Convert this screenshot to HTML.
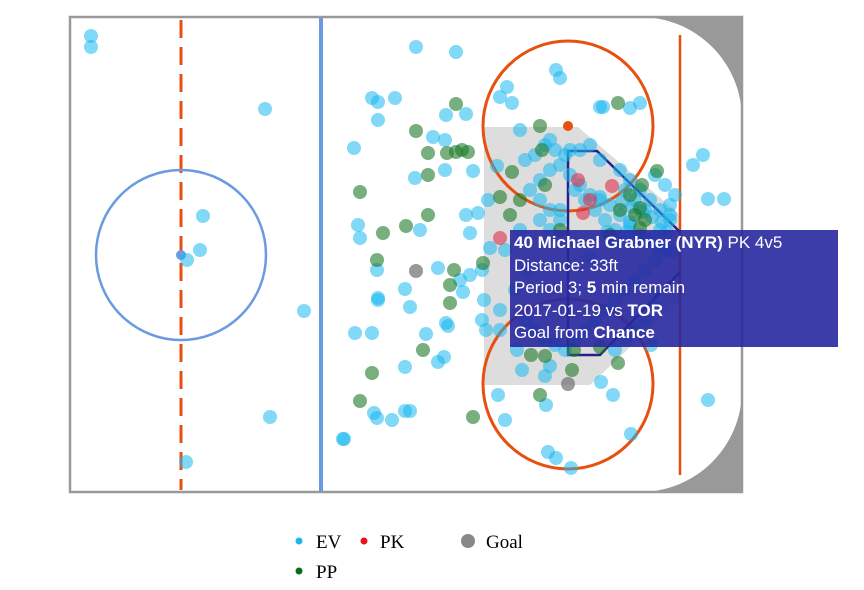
<!DOCTYPE html>
<html><head><meta charset="utf-8"><style>
body{margin:0;background:#fff;width:864px;height:590px;overflow:hidden;font-family:"Liberation Serif",serif}
svg{position:absolute;left:0;top:0}
.tip{position:absolute;left:510px;top:230px;width:328px;height:117px;background:rgba(40,40,160,0.9);color:#fff;font-family:"Liberation Sans",sans-serif;font-size:17px;line-height:22.5px;padding:2px 4px;box-sizing:border-box}
</style></head><body>
<svg id="chart" width="864" height="590">
<g id="rink">
<path d="M640,17 A102,102 0 0 1 742,119 L742,17 Z M640,492 A102,102 0 0 0 742,390 L742,492 Z" fill="#999"/>
<rect x="70" y="17" width="672" height="475" fill="none" stroke="#999" stroke-width="2.5"/>
<polygon points="484,127 578,127 680,215 680,300 590,385 484,385" fill="#ddd"/>
<line x1="181" y1="20" x2="181" y2="490" stroke="#e8500f" stroke-width="3" stroke-dasharray="18,9"/>
<line x1="321" y1="18" x2="321" y2="491" stroke="#6a9be0" stroke-width="4"/>
<line x1="680" y1="35" x2="680" y2="475" stroke="#e8500f" stroke-width="2.5"/>
<circle cx="181" cy="255" r="85" fill="none" stroke="#6a9be0" stroke-width="2.5"/>
<circle cx="181" cy="255" r="5" fill="#6a9be0"/>
<circle cx="568" cy="126" r="85" fill="none" stroke="#e8500f" stroke-width="3"/>
<circle cx="568" cy="384" r="85" fill="none" stroke="#e8500f" stroke-width="3"/>
<circle cx="568" cy="126" r="5" fill="#e8500f"/>
<polyline points="680,232 597,151 568,151 568,355 600,355 680,272" fill="none" stroke="#22228a" stroke-width="2.5"/>
</g>
<g id="points"></g>
<g font-size="19" fill="#000">
<g><circle cx="299" cy="541" r="3.5" fill="#1ab8f0"/><text x="316" y="548">EV</text></g>
<g><circle cx="364" cy="541" r="3.5" fill="#e8141c"/><text x="380" y="548">PK</text></g>
<g><circle cx="468" cy="541" r="7" fill="#888"/><text x="486" y="548">Goal</text></g>
<g><circle cx="299" cy="571" r="3.5" fill="#0b6b1a"/><text x="316" y="578">PP</text></g>
</g>
</svg>
<div class="tip">
<div><b>40 Michael Grabner (NYR)</b> PK 4v5</div>
<div>Distance: 33ft</div>
<div>Period 3; <b>5</b> min remain</div>
<div>2017-01-19 vs <b>TOR</b></div>
<div>Goal from <b>Chance</b></div>
</div>
<script>
// rink coordinates in rink units (0..672 x 0..475)
const evX=[21,21,195,133,130,117,234,200,116,274,346,386,302,308,325,308,284,376,396,363,375,288,290,308,335,307,345,375,403,350,368,396,408,400,418,427,437,430,442,486,490,533,530,560,570,633,654,638,623,638,581,561,531,543,480,486,501,478,476,475,428,435,393,376,378,374,368,335,322,335,340,304,307,273,285,302,308,356,340,400,412,420,414,430,430,447,452,450,480,500,510,520,530,550,560,570,580,590,600,590,580,570,560,550,540,530,520,510,500,490,480,470,460,470,480,490,450,455,465,475,485,495,505,515,525,535,545,555,565,575,585,595,605,600,595,585,575,565,555,545,535,525,515,505,495,485,475,465,455,545,555,565,575,585,470,480,490,435,445,458,412,416,390,540,530,600,560,520,552,562,572,582,592,597,557,567,577,587,547,537,592,602];
const evY=[19,30,92,199,233,243,294,400,445,422,30,35,81,85,81,103,131,98,97,120,123,208,221,283,272,253,161,153,154,213,251,198,196,216,183,149,70,80,86,53,61,90,90,91,86,138,182,182,148,383,328,417,365,378,349,441,451,435,388,359,378,403,275,306,309,340,345,350,403,394,394,396,401,422,316,316,281,317,290,258,253,231,283,293,313,333,353,113,123,133,133,128,143,153,163,173,183,193,203,213,223,218,208,198,188,183,178,168,158,148,153,163,173,183,193,203,213,143,138,128,133,138,173,183,193,203,213,173,183,193,158,168,178,188,233,243,253,263,273,283,293,303,313,323,333,328,323,313,303,333,323,313,303,288,203,213,193,233,273,253,303,313,263,223,180,198,205,240,185,190,195,200,205,215,215,220,225,230,225,215,230,235];
const ppX=[386,346,358,377,386,392,398,290,358,358,336,313,307,384,380,380,353,302,290,403,470,548,472,442,475,430,450,440,587,572,570,565,575,570,550,560,490,540,475,530,548,504,470,461,502,413];
const ppY=[87,114,136,136,135,133,135,175,158,198,209,216,243,253,268,286,333,356,384,400,109,86,133,155,168,180,183,198,154,168,191,198,203,211,193,178,213,218,339,330,346,333,378,338,353,246];
const pkX=[520,542,430,508,513];
const pkY=[183,169,221,163,196];
const goalX=[346,498];
const goalY=[254,367];
const X0=70,Y0=17;
const sx=v=>X0+v, sy=v=>Y0+v;
const g=document.getElementById('points');
const NS='http://www.w3.org/2000/svg';
function draw(xs,ys,fill,op,name){
  for(let i=0;i<xs.length;i++){
    const c=document.createElementNS(NS,'circle');
    c.setAttribute('cx',sx(xs[i]));c.setAttribute('cy',sy(ys[i]));c.setAttribute('r',7);
    c.setAttribute('fill',fill);c.setAttribute('fill-opacity',op);
    
    
    g.appendChild(c);
  }
}
draw(evX,evY,'#1ab8f0',0.55,'ev-shot');
draw(ppX,ppY,'#1d7a2a',0.6,'pp-shot');
draw(pkX,pkY,'#e0304a',0.6,'pk-shot');
draw(goalX,goalY,'#777',0.75,'goal-shot');
</script>
</body></html>
